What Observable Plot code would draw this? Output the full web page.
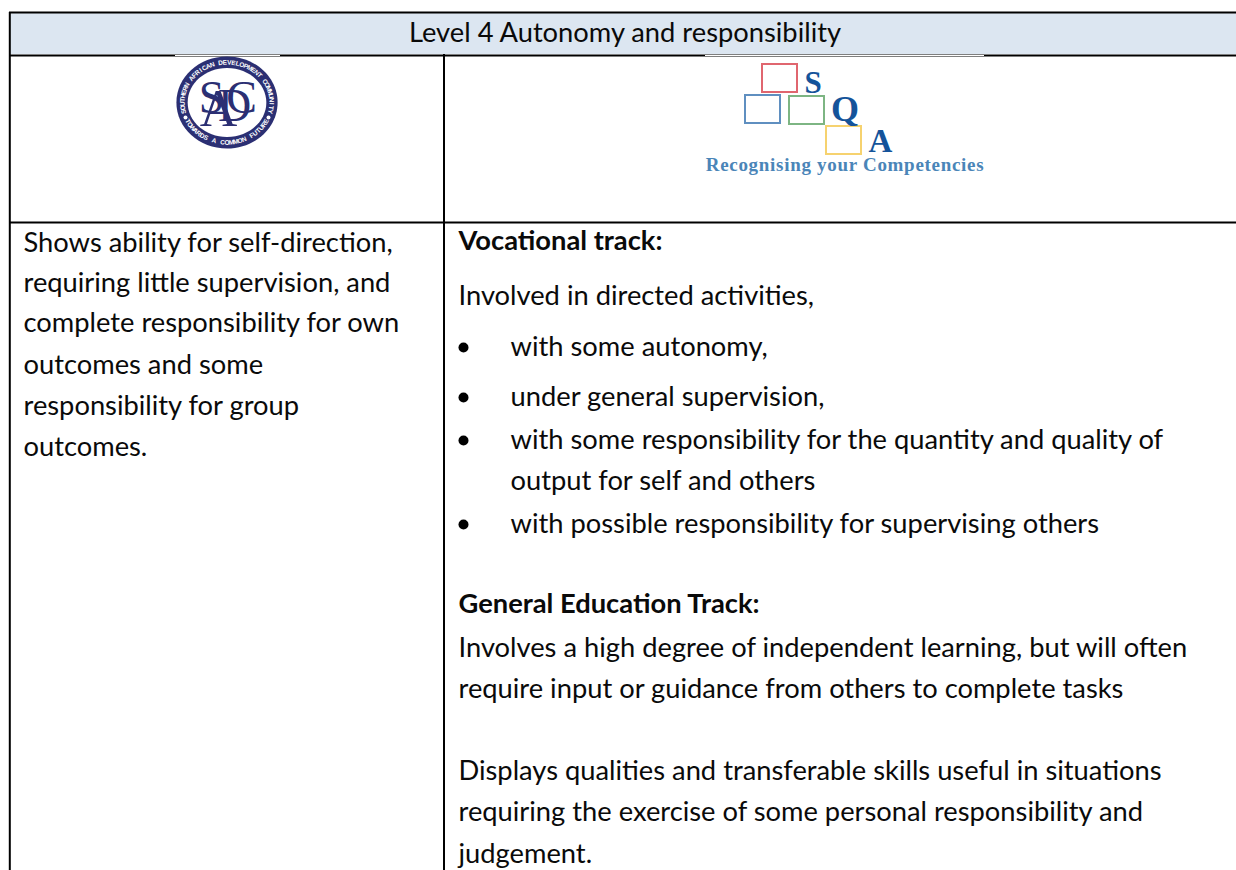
<!DOCTYPE html>
<html><head><meta charset="utf-8">
<script src="https://cdn.jsdelivr.net/npm/d3@7"></script>
<script src="https://cdn.jsdelivr.net/npm/@observablehq/plot@0.6"></script>
<style>html,body{margin:0;padding:0;background:#fff}svg{display:block}.spaced{letter-spacing:.7px}</style>
</head><body><div id="c"></div>
<script>
const headerText = ["Level 4 Autonomy and responsibility"];
const leftLines = ["Shows ability for self-direction,","requiring little supervision, and","complete responsibility for own","outcomes and some","responsibility for group","outcomes."];
const leftBaselines = [251,291,331,373,414,455];
const rightLines = ["Vocational track:","Involved in directed activities,","with some autonomy,","under general supervision,","with some responsibility for the quantity and quality of","output for self and others","with possible responsibility for supervising others","General Education Track:","Involves a high degree of independent learning, but will often","require input or guidance from others to complete tasks","Displays qualities and transferable skills useful in situations","requiring the exercise of some personal responsibility and","judgement."];
const rightBaselines = [249,304,355,405,448,489,532,612,656,697,779,820,862];
const rightIndent = [0,0,1,1,1,1,1,0,0,0,0,0,0];
const rightBold = [1,0,0,0,0,0,0,1,0,0,0,0,0];
const bulletRows = [2,3,4,6];
const sqaBoxes = [{x:762,y:64,c:"#e0666f"},{x:745,y:95,c:"#5f8fc0"},{x:789,y:96,c:"#7db583"},{x:826,y:126,c:"#f6d26f"}];
const sqaLetters = [{t:"S",x:812.5,y:92,s:31},{t:"Q",x:844.5,y:120,s:36},{t:"A",x:880,y:151,s:33}];
const sadcLetters = [{t:"S",x:211,y:112,s:46},{t:"A",x:218,y:125,s:52},{t:"D",x:234,y:120,s:46},{t:"C",x:241,y:112,s:46}];
const ringTop = "SOUTHERN AFRICAN DEVELOPMENT COMMUNITY";
const ringBottom = "TOWARDS A COMMON FUTURE";
const ink="#2b2f73";
const cx=226.5, cy=102;
const ellipse=(k)=>({draw(c,size){const r=Math.sqrt(size/Math.PI),m=.5523,a=r*k,b=r;c.moveTo(a,0);c.bezierCurveTo(a,b*m,a*m,b,0,b);c.bezierCurveTo(-a*m,b,-a,b*m,-a,0);c.bezierCurveTo(-a,-b*m,-a*m,-b,0,-b);c.bezierCurveTo(a*m,-b,a,-b*m,a,0);c.closePath();}});
const ringChars=[];
[...ringTop].forEach((ch,i,a)=>{const ang=-103+206*(i/(a.length-1));const r=ang*Math.PI/180;ringChars.push({ch,x:cx+44.5*Math.sin(r),y:cy-40*Math.cos(r),rot:ang});});
[...ringBottom].forEach((ch,i,a)=>{const ang=-62+124*(i/(a.length-1));const r=ang*Math.PI/180;ringChars.push({ch,x:cx+44.5*Math.sin(r),y:cy+40*Math.cos(r),rot:-ang});});
const font="Lato";
const size=27.3;
const leftRows=leftLines.map((t,i)=>({t,y:leftBaselines[i]}));
const rightRows=rightLines.map((t,i)=>({t,y:rightBaselines[i],ind:rightIndent[i],b:rightBold[i]}));
const textOpts={fontFamily:font,fontSize:size,fill:"#0a0a0a",lineAnchor:"bottom",textAnchor:"start"};
const chart=Plot.plot({
 width:1236,height:870,margin:0,
 x:{type:"identity",axis:null},y:{type:"identity",axis:null},
 style:{background:"#fff"},
 marks:[
  Plot.rect([0],{x1:10,x2:1236,y1:13,y2:54,fill:"#dce6f1"}),
  Plot.ruleY([12,55],{stroke:"#000",strokeWidth:2,x1:9,x2:1236}),
  Plot.ruleY([222],{stroke:"#000",strokeWidth:2,x1:9,x2:1236}),
  Plot.ruleX([9.3],{stroke:"#000",strokeWidth:2,y1:12,y2:870}),
  Plot.ruleX([443.5],{stroke:"#000",strokeWidth:2,y1:54,y2:870}),
  Plot.rect([[175,280],[705,984]],{x1:d=>d[0],x2:d=>d[1],y1:55,y2:56,fill:"#fff"}),
  Plot.text(headerText,{...textOpts,x:624.5,y:41,text:d=>d,textAnchor:"middle"}),
  Plot.text(leftRows,{...textOpts,x:23,y:"y",text:"t"}),
  Plot.text(rightRows.filter(d=>!d.b),{...textOpts,x:d=>d.ind?510:458,y:"y",text:"t"}),
  Plot.text(rightRows.filter(d=>d.b),{...textOpts,x:458,y:"y",text:"t",fontWeight:"bold"}),
  Plot.dot(bulletRows,{x:463,y:i=>rightBaselines[i]-8,r:5,fill:"#000",stroke:"none"}),
  // SADC seal
  Plot.dot([0],{x:cx,y:cy,r:46,symbol:ellipse(1.1),fill:ink,stroke:"none"}),
  Plot.dot([0],{x:cx,y:cy,r:34.5,symbol:ellipse(1.14),fill:"#fff",stroke:"none"}),
  Plot.text(ringChars,{x:"x",y:"y",text:"ch",rotate:"rot",fontFamily:"Liberation Sans",fontWeight:"bold",fontSize:6.5,fill:"#fff"}),
  Plot.dot([[185,117],[268,117]],{x:d=>d[0],y:d=>d[1],r:2,fill:"#fff",stroke:"none"}),
  Plot.text(sadcLetters,{x:"x",y:"y",text:"t",fontSize:"s",fontFamily:"Liberation Serif",fill:ink,lineAnchor:"bottom"}),
  // SQA logo
  Plot.rect(sqaBoxes,{x1:"x",x2:d=>d.x+35,y1:"y",y2:d=>d.y+28,fill:"none",stroke:"c",strokeWidth:2}),
  Plot.text(sqaLetters,{x:"x",y:"y",text:"t",fontSize:"s",fontFamily:"Liberation Serif",fontWeight:"bold",fill:"#14539a",lineAnchor:"bottom"}),
  Plot.text(["Recognising your Competencies"],{x:844.5,y:170,text:d=>d,fontFamily:"Liberation Serif",fontWeight:"bold",fontSize:19,fill:"#4a85b8",lineAnchor:"bottom",className:"spaced"})
 ]
});
document.getElementById("c").append(chart);
</script></body></html>
